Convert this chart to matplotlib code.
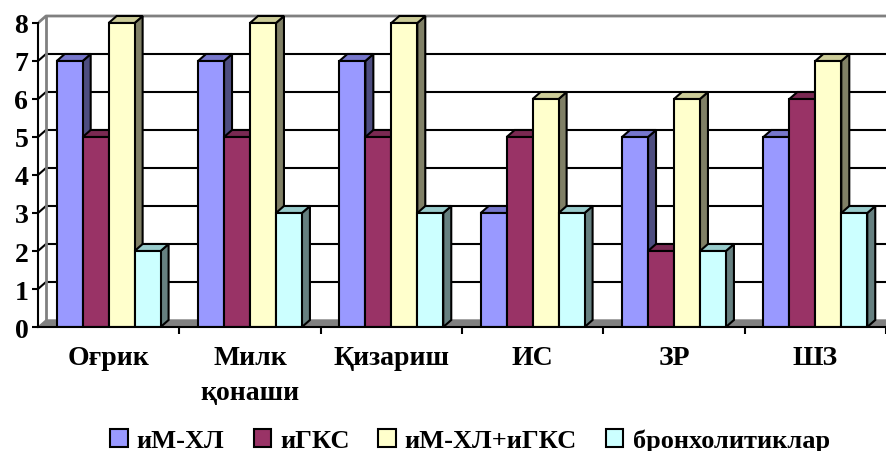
import matplotlib.pyplot as plt
from matplotlib.patches import Rectangle, Polygon, Patch

plt.rcParams['font.family'] = ['Liberation Serif', 'DejaVu Serif']
plt.rcParams['font.weight'] = 'bold'

categories = ["Оғрик", "Милк\nқонаши", "Қизариш", "ИС", "ЗР", "ШЗ"]
series = ["иМ-ХЛ", "иГКС", "иМ-ХЛ+иГКС", "бронхолитиклар"]
im_hl = [7, 7, 7, 3, 5, 5]
igks = [5, 5, 5, 5, 2, 6]
im_hl_igks = [8, 8, 8, 6, 6, 7]
broncho = [2, 3, 3, 3, 2, 3]
values = [im_hl, igks, im_hl_igks, broncho]

# front / top / side colours for each series
front = ["#9999ff", "#993366", "#ffffcc", "#ccffff"]
top = ["#7777cc", "#7a2952", "#cccc99", "#99cccc"]
side = ["#4d4d80", "#4d1a33", "#808066", "#668080"]

fig = plt.figure(figsize=(8.86, 4.52), dpi=100)
ax = fig.add_axes([38 / 886, 124 / 452, 848 / 886, 328 / 452])
ncat = len(categories)
ax.set_xlim(0, 848 / 141.5)
ax.set_ylim(0, 328 / 38)
for s in ax.spines.values():
    s.set_visible(False)

dx = 8 / 141.5   # depth offset in category units
dy = 7 / 38      # depth offset in value units
bw = 26 / 141.5
start = (1 - 4 * bw) / 2

# floor
ax.add_patch(Polygon([(0, 0), (ncat, 0), (ncat + dx, dy), (dx, dy)],
                     closed=True, facecolor="#808080", edgecolor="#808080", lw=1, zorder=1))
# back wall gridlines and side wall diagonals
for v in range(1, 8):
    ax.plot([0, dx, ncat + dx], [v, v + dy, v + dy], color="black", lw=1.5, zorder=1)
ax.plot([0, dx, ncat + dx], [8, 8 + dy, 8 + dy], color="#808080", lw=2, zorder=1)
ax.plot([dx, dx], [dy, 8 + dy], color="#808080", lw=2, zorder=1)
ax.plot([0, 0], [0, 8], color="black", lw=1.5, zorder=1, clip_on=False)

z = 2
for c in range(ncat):
    for k in range(4):
        v = values[k][c]
        x0 = c + start + k * bw
        x1 = x0 + bw
        ax.add_patch(Polygon([(x1, 0), (x1 + dx, dy), (x1 + dx, v + dy), (x1, v)],
                             closed=True, facecolor=side[k], edgecolor="black", lw=1.5, zorder=z))
        ax.add_patch(Polygon([(x0, v), (x1, v), (x1 + dx, v + dy), (x0 + dx, v + dy)],
                             closed=True, facecolor=top[k], edgecolor="black", lw=1.5, zorder=z))
        ax.add_patch(Rectangle((x0, 0), bw, v, facecolor=front[k], edgecolor="black",
                               lw=1.5, zorder=z))
        z += 1

ax.plot([0, ncat], [0, 0], color="black", lw=1.5, zorder=z, clip_on=False)

ax.set_yticks(range(0, 9))
ax.tick_params(axis='y', length=4, width=1.5, pad=3, labelsize=20)
ax.set_xticks([c + 0.5 for c in range(ncat)])
ax.set_xticklabels(categories, fontsize=20, linespacing=1.5, va='top')
ax.set_xticks(range(1, ncat + 1), minor=True)
ax.tick_params(axis='x', which='major', length=0, pad=13)
ax.tick_params(axis='x', which='minor', length=5, width=1.5)

handles = [Patch(facecolor=front[k], edgecolor="black", lw=1.5, label=series[k]) for k in range(4)]
fig.legend(handles=handles, loc='lower center', bbox_to_anchor=(470 / 886, -0.055), ncol=4,
           frameon=False, fontsize=19, handlelength=0.65, handleheight=0.65,
           handletextpad=0.35, columnspacing=1.1)

fig.savefig("out.png", dpi=100)
